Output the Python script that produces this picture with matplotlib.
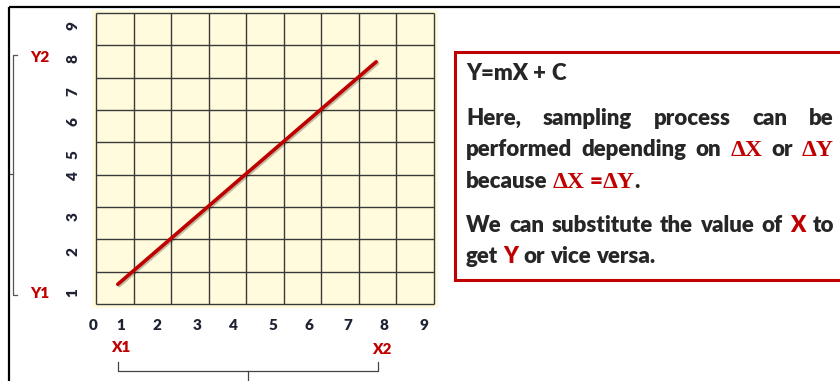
import matplotlib
matplotlib.use('Agg')
import matplotlib.pyplot as plt
import matplotlib.patheffects as pe
from matplotlib.patches import Rectangle

W, H = 840, 381
RED = '#C00000'
INK = '#262626'
NUM = '#1f2233'

# grid: 9 x 9 cells
n_cells = 9
x_labels = ['0', '1', '2', '3', '4', '5', '6', '7', '8', '9']
x_label_pos = [-0.08, 0.67, 1.63, 2.69, 3.65, 4.71, 5.67, 6.71, 7.67, 8.73]
y_labels = ['1', '2', '3', '4', '5', '6', '7', '8', '9']
y_label_pos = [0.34, 1.61, 2.69, 3.96, 4.61, 5.63, 6.56, 7.60, 8.60]

# straight line between the two end points
line_x = [0.58, 7.46]
line_y = [0.61, 7.49]

# note text: each line is a list of words, each word a list of (text, colour, font)
SANS = dict(family='Lato', weight='heavy', size=16)
SERIF = dict(family='Liberation Serif', weight='bold', size=17)
note_lines = [
    [[('Y=mX', INK, SANS)], [('+', INK, SANS)], [('C', INK, SANS)]],
    [[('Here,', INK, SANS)], [('sampling', INK, SANS)], [('process', INK, SANS)],
     [('can', INK, SANS)], [('be', INK, SANS)]],
    [[('performed', INK, SANS)], [('depending', INK, SANS)], [('on', INK, SANS)],
     [('ΔX', RED, SERIF)], [('or', INK, SANS)], [('ΔY', RED, SERIF)]],
    [[('because', INK, SANS)], [('ΔX', RED, SERIF)],
     [('=', RED, SANS), ('ΔY', RED, SERIF), ('.', INK, SANS)]],
    [[('We', INK, SANS)], [('can', INK, SANS)], [('substitute', INK, SANS)],
     [('the', INK, SANS)], [('value', INK, SANS)], [('of', INK, SANS)],
     [('X', RED, SANS)], [('to', INK, SANS)]],
    [[('get', INK, SANS)], [('Y', RED, SANS)], [('or', INK, SANS)],
     [('vice', INK, SANS)], [('versa.', INK, SANS)]],
]
note_baselines = [80, 125, 156, 188, 232, 263]
note_justify = [False, True, True, False, True, False]

fig = plt.figure(figsize=(W / 100, H / 100), dpi=100)
fig.patch.set_facecolor('white')

# full-figure overlay in pixel units for frame, brackets and the note box
ov = fig.add_axes([0, 0, 1, 1])
ov.set_xlim(0, W)
ov.set_ylim(H, 0)
ov.axis('off')

ov.plot([9, 9], [7, H], color='black', lw=1.6, solid_capstyle='butt')
ov.plot([9, W], [7, 7], color='black', lw=1.6, solid_capstyle='butt')

# left bracket spanning Y1..Y2
ov.plot([17, 13, 13, 17], [55, 55, 295, 295], color='#555555', lw=0.9)
ov.plot([13, 10], [174, 174], color='#555555', lw=0.9)
# bottom brace spanning X1..X2
ov.plot([118, 118, 378, 378], [362, 371, 371, 362], color='#444444', lw=0.9)
ov.plot([248, 248], [371, H], color='#444444', lw=0.9)

for s, x, y in [('Y2', 40, 58), ('Y1', 40, 293), ('X1', 121, 348), ('X2', 382, 349)]:
    ov.text(x, y, s, color=RED, family='Lato', weight='heavy', size=11,
            ha='center', va='center')

# note box
ov.add_patch(Rectangle((455, 52), 400, 228, fc='white', ec=RED, lw=2.2,
                       path_effects=[pe.SimplePatchShadow(offset=(1.5, -1.5), alpha=0.2),
                                     pe.Normal()]))

renderer = fig.canvas.get_renderer()


def text_width(s, font):
    t = ov.text(0, 0, s, **font)
    w = t.get_window_extent(renderer=renderer).width
    t.remove()
    return w


space_w = text_width('a a', SANS) - text_width('aa', SANS)
x_left, x_right = 466, 834

for words, base, justify in zip(note_lines, note_baselines, note_justify):
    word_w = [sum(text_width(s, f) for s, c, f in wd) for wd in words]
    gap = space_w
    if justify and len(words) > 1:
        gap = (x_right - x_left - sum(word_w)) / (len(words) - 1)
    x = x_left
    for wd, ww in zip(words, word_w):
        xs = x
        for s, c, f in wd:
            ov.text(xs, base, s, color=c, ha='left', va='baseline', **f)
            xs += text_width(s, f)
        x += ww + gap

# grid panel
ax = fig.add_axes([92 / W, 1 - 308 / H, (438 - 92) / W, (308 - 10) / H])
ax.set_xlim(-0.1065, n_cells + 0.1065)
ax.set_ylim(-0.124, n_cells + 0.093)
ax.set_facecolor('#fffbdc')
for sp in ax.spines.values():
    sp.set_visible(False)
ax.set_xticks([])
ax.set_yticks([])

ax.vlines(range(n_cells + 1), 0, n_cells, color='#3a3a3a', lw=1.0)
ax.hlines(range(n_cells + 1), 0, n_cells, color='#3a3a3a', lw=1.0)

ax.plot(line_x, line_y, color=RED, lw=2.6, solid_capstyle='round', zorder=3,
        path_effects=[pe.SimpleLineShadow(offset=(1, -1), alpha=0.25), pe.Normal()])

for lab, px in zip(x_labels, x_label_pos):
    ax.text(px, -0.65, lab, color=NUM, family='Lato', weight='heavy', size=11,
            ha='center', va='center', clip_on=False)
for lab, py in zip(y_labels, y_label_pos):
    ax.text(-0.61, py, lab, color=NUM, family='Lato', weight='heavy', size=11,
            rotation=90, ha='center', va='center', clip_on=False)

fig.savefig('out.png', dpi=100)
